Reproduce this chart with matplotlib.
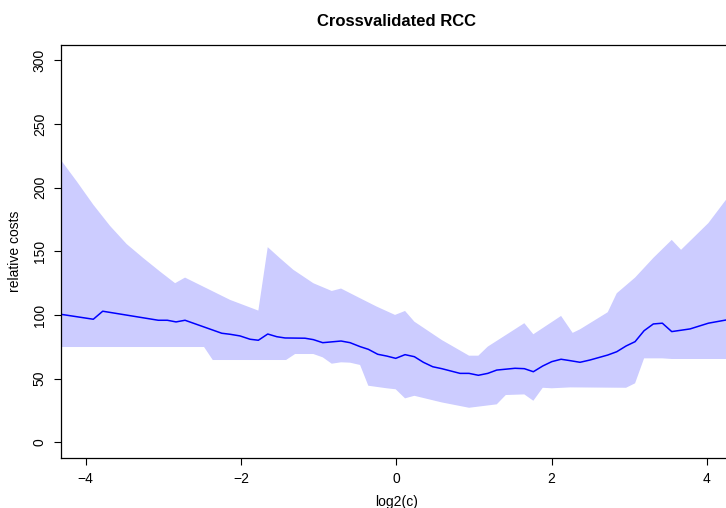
import matplotlib
matplotlib.use("Agg")
import matplotlib.pyplot as plt
import numpy as np

plt.rcParams['font.family'] = ['Liberation Sans', 'DejaVu Sans']

# mean relative cost (blue line)
line_x = [-4.322, -3.902, -3.781, -3.065, -2.949, -2.837, -2.721, -2.248, -2.141, -2.013,
          -1.884, -1.777, -1.656, -1.540, -1.433, -1.176, -1.069, -0.948, -0.712, -0.596,
          -0.467, -0.361, -0.240, -0.124, -0.008, 0.112, 0.232, 0.348, 0.469, 0.585,
          0.820, 0.936, 1.056, 1.177, 1.293, 1.528, 1.648, 1.764, 1.885, 2.001,
          2.121, 2.237, 2.365, 2.494, 2.722, 2.838, 2.958, 3.074, 3.190, 3.309,
          3.425, 3.546, 3.782, 4.018, 4.245, 4.322]
line_y = [100.6, 96.7, 103.0, 95.9, 95.9, 94.6, 95.9, 85.7, 84.9, 83.6,
          81.0, 80.2, 85.1, 83.0, 82.0, 81.8, 80.7, 78.3, 79.6, 78.3,
          75.2, 73.1, 69.2, 67.8, 66.0, 68.9, 67.3, 62.9, 59.4, 57.9,
          54.2, 54.2, 52.7, 54.2, 56.8, 58.2, 57.9, 55.5, 60.0, 63.4,
          65.3, 64.2, 62.9, 64.7, 68.6, 71.2, 75.7, 79.1, 87.7, 93.0,
          93.6, 87.0, 89.1, 93.6, 96.1, 96.6]

# upper edge of band
upper_x = [-4.322, -4.115, -3.902, -3.687, -3.472, -3.258, -3.042, -2.849, -2.721, -2.141,
           -1.777, -1.656, -1.500, -1.326, -1.069, -0.832, -0.712, -0.467, -0.252, -0.017,
           0.112, 0.232, 0.585, 0.936, 1.056, 1.177, 1.648, 1.764, 2.121, 2.270,
           2.365, 2.722, 2.838, 3.074, 3.310, 3.546, 3.666, 4.018, 4.245, 4.322]
upper_y = [221.9, 204.9, 186.6, 170.0, 155.7, 144.7, 134.1, 125.0, 129.4, 111.9,
           103.5, 153.3, 144.7, 135.5, 125.0, 118.9, 120.8, 113.2, 106.6, 100.1,
           103.2, 94.8, 80.4, 68.1, 68.1, 75.2, 93.6, 84.9, 99.3, 86.0,
           88.8, 102.2, 117.1, 129.4, 144.9, 159.0, 151.2, 172.2, 190.5, 197.0]

# lower edge of band
lower_x = [-4.322, -2.476, -2.364, -1.420, -1.304, -1.069, -0.948, -0.832, -0.712, -0.596,
           -0.467, -0.361, -0.124, -0.008, 0.112, 0.232, 0.585, 0.936, 1.293, 1.409,
           1.648, 1.764, 1.885, 2.001, 2.237, 2.958, 3.074, 3.190, 3.425, 3.546, 4.322]
lower_y = [74.9, 74.9, 64.7, 64.7, 69.4, 69.4, 66.8, 61.8, 62.9, 62.6,
           60.8, 44.5, 42.5, 41.7, 34.6, 36.6, 31.4, 27.2, 29.9, 37.2,
           37.7, 32.7, 42.9, 42.5, 43.2, 42.9, 46.4, 66.0, 66.0, 65.5, 65.5]

y_ticks = [0, 50, 100, 150, 200, 250, 300]
x_ticks = [-4, -2, 0, 2, 4]

W, H = 726, 508
fig = plt.figure(figsize=(W / 100, H / 100), dpi=100)
ax = fig.add_axes([60.7 / W, 1 - 457.7 / H, (732 - 60.7) / W, (457.7 - 45) / H])

poly_x = list(upper_x) + list(lower_x[::-1])
poly_y = list(upper_y) + list(lower_y[::-1])
ax.fill(poly_x, poly_y, color='#CCCCFF', linewidth=0, zorder=1)
ax.plot(line_x, line_y, color='#0000FF', linewidth=1.1, zorder=2)

ax.set_xlim(-4.322, 4.322)
ax.set_ylim(-12, 312)
ax.set_xticks(x_ticks)
ax.set_xticklabels(['\u22124', '\u22122', '0', '2', '4'])
ax.set_yticks(y_ticks)
ax.set_yticklabels([str(v) for v in y_ticks])
for lab in ax.get_yticklabels():
    lab.set_rotation(90)
    lab.set_va('center')
ax.tick_params(axis='both', direction='out', length=5, width=0.8, labelsize=10, colors='black')
ax.tick_params(axis='x', pad=5)
ax.tick_params(axis='y', pad=5)
for s in ax.spines.values():
    s.set_linewidth(0.9)
    s.set_color('black')

fig.text(396.3 / W, 1 - 26 / H, 'Crossvalidated RCC', ha='center', va='baseline',
         fontsize=12, fontweight='bold')
fig.text(396.3 / W, 1 - 502 / H, 'log2(c)', ha='center', va='center', fontsize=10)
fig.text(15 / W, 1 - 251 / H, 'relative costs', ha='center', va='center', rotation=90, fontsize=10)

fig.savefig('out.png', dpi=100)
